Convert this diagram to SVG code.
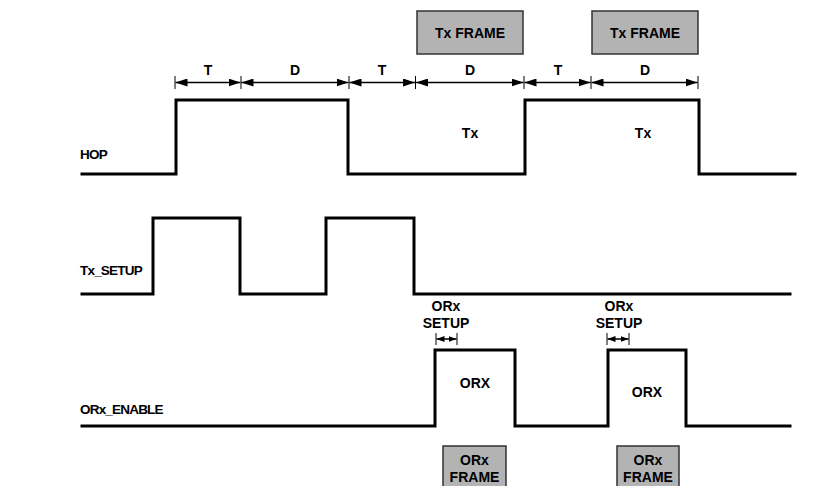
<svg xmlns="http://www.w3.org/2000/svg" width="814" height="486" viewBox="0 0 814 486">
<style>
  .wave { fill: none; stroke: #000; stroke-width: 3; stroke-linejoin: miter; stroke-linecap: square; }
  .lbl { font-family: "Liberation Sans", Arial, sans-serif; font-weight: bold; font-size: 14px; fill: #000; }
  .sig { text-anchor: start; font-size: 13.5px; letter-spacing: -0.8px; }
  .mid { text-anchor: middle; }
  .box { fill: #b3b3b3; stroke: #333; stroke-width: 1.5; }
  .dim { stroke: #000; stroke-width: 1.5; fill: none; }
  .tick { stroke: #000; stroke-width: 1; }
</style>
<defs>
  <marker id="ah" viewBox="0 0 12 8" refX="12" refY="4" markerWidth="12" markerHeight="8" markerUnits="userSpaceOnUse" orient="auto-start-reverse">
    <path d="M0,0 L12,4 L0,8 Z" fill="#000"/>
  </marker>
  <marker id="ahs" viewBox="0 0 8 6" refX="8" refY="3" markerWidth="8" markerHeight="6" markerUnits="userSpaceOnUse" orient="auto-start-reverse">
    <path d="M0,0 L8,3 L0,6 Z" fill="#000"/>
  </marker>
</defs>

<g id="tx-frame-1">
  <rect class="box" x="417" y="11" width="106" height="43"/>
  <text class="lbl mid" x="470" y="38">Tx FRAME</text>
</g>
<g id="tx-frame-2">
  <rect class="box" x="592" y="11" width="106" height="43"/>
  <text class="lbl mid" x="645" y="38">Tx FRAME</text>
</g>

<g id="hop">
  <text class="lbl sig" x="80" y="159">HOP</text>
  <polyline class="wave" points="82,174 176,174 176,100 348,100 348,174 525,174 525,100 699,100 699,174 795,174"/>
  <text class="lbl mid" x="470" y="138">Tx</text>
  <text class="lbl mid" x="643" y="138">Tx</text>
</g>

<g id="tx-setup">
  <text class="lbl sig" x="80" y="275">Tx_SETUP</text>
  <polyline class="wave" points="82,294 153,294 153,218 240,218 240,294 326,294 326,218 414,218 414,294 790,294"/>
</g>

<g id="orx-enable">
  <text class="lbl sig" x="80" y="414">ORx_ENABLE</text>
  <polyline class="wave" points="82,426 435,426 435,350 515,350 515,426 608,426 608,350 686,350 686,426 790,426"/>
  <text class="lbl mid" x="475" y="388">ORX</text>
  <text class="lbl mid" x="647" y="397">ORX</text>
</g>

<g id="orx-frame-1">
  <rect class="box" x="443" y="446" width="63" height="46"/>
  <text class="lbl mid" x="474.5" y="465">ORx</text>
  <text class="lbl mid" x="474.5" y="482">FRAME</text>
</g>
<g id="orx-frame-2">
  <rect class="box" x="617" y="446" width="62" height="46"/>
  <text class="lbl mid" x="648" y="465">ORx</text>
  <text class="lbl mid" x="648" y="482">FRAME</text>
</g>

<g id="orx-setup-labels">
  <text class="lbl mid" x="446" y="311">ORx</text>
  <text class="lbl mid" x="446" y="328">SETUP</text>
  <text class="lbl mid" x="619" y="311">ORx</text>
  <text class="lbl mid" x="619" y="328">SETUP</text>
</g>

<g id="dimension-labels">
  <text class="lbl mid" x="208" y="75">T</text>
  <text class="lbl mid" x="295" y="75">D</text>
  <text class="lbl mid" x="382" y="75">T</text>
  <text class="lbl mid" x="470" y="75">D</text>
  <text class="lbl mid" x="558" y="75">T</text>
  <text class="lbl mid" x="645" y="75">D</text>
</g>

<g id="connectors">
  <g class="tick">
    <line x1="175" y1="76" x2="175" y2="89"/>
    <line x1="241" y1="76" x2="241" y2="89"/>
    <line x1="349" y1="76" x2="349" y2="89"/>
    <line x1="415.5" y1="76" x2="415.5" y2="89"/>
    <line x1="524" y1="76" x2="524" y2="89"/>
    <line x1="591" y1="76" x2="591" y2="89"/>
    <line x1="698" y1="76" x2="698" y2="89"/>
    <line x1="436" y1="333" x2="436" y2="345"/>
    <line x1="457" y1="333" x2="457" y2="345"/>
    <line x1="607" y1="333" x2="607" y2="345"/>
    <line x1="629" y1="333" x2="629" y2="345"/>
  </g>
  <line class="dim" x1="175.5" y1="82.5" x2="240.5" y2="82.5" marker-start="url(#ah)" marker-end="url(#ah)"/>
  <line class="dim" x1="241.5" y1="82.5" x2="348.5" y2="82.5" marker-start="url(#ah)" marker-end="url(#ah)"/>
  <line class="dim" x1="349.5" y1="82.5" x2="415" y2="82.5" marker-start="url(#ah)" marker-end="url(#ah)"/>
  <line class="dim" x1="416" y1="82.5" x2="523.5" y2="82.5" marker-start="url(#ah)" marker-end="url(#ah)"/>
  <line class="dim" x1="524.5" y1="82.5" x2="590.5" y2="82.5" marker-start="url(#ah)" marker-end="url(#ah)"/>
  <line class="dim" x1="591.5" y1="82.5" x2="697.5" y2="82.5" marker-start="url(#ah)" marker-end="url(#ah)"/>
  <line class="dim" x1="436.5" y1="339" x2="456.5" y2="339" stroke-width="1" marker-start="url(#ahs)" marker-end="url(#ahs)"/>
  <line class="dim" x1="607.5" y1="339" x2="628.5" y2="339" stroke-width="1" marker-start="url(#ahs)" marker-end="url(#ahs)"/>
</g>
</svg>
